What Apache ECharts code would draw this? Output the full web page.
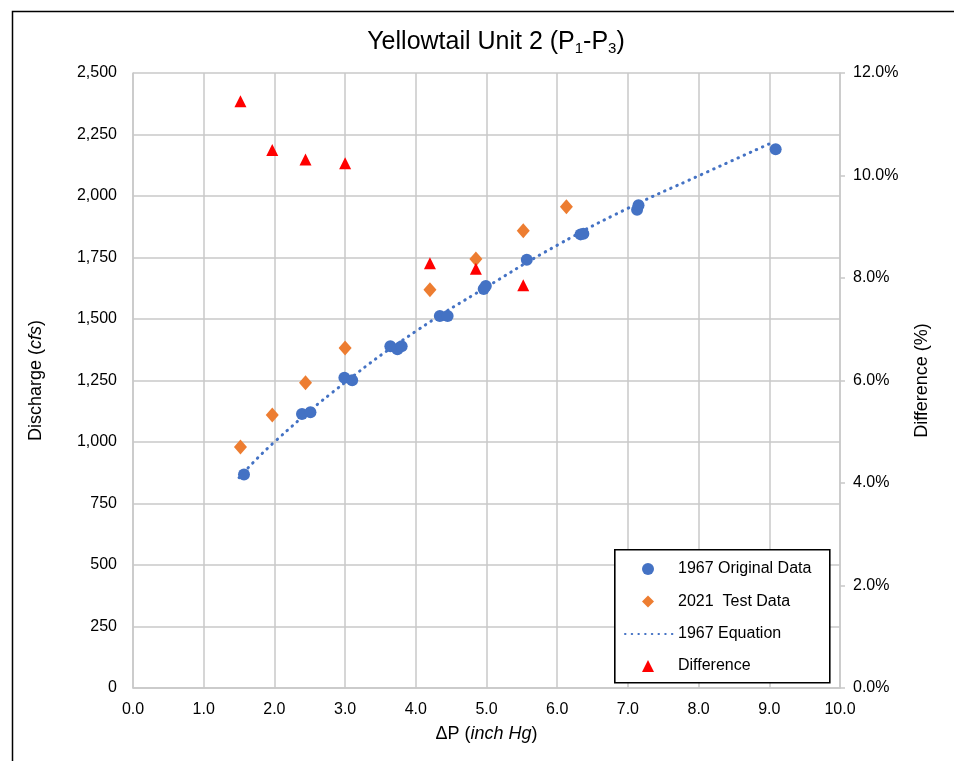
<!DOCTYPE html>
<html>
<head>
<meta charset="utf-8">
<script src="https://cdn.jsdelivr.net/npm/echarts@6/dist/echarts.min.js"></script>
<style>
html,body{margin:0;padding:0;background:#fff;}
#chart{width:954px;height:761px;}
</style>
</head>
<body>
<div id="chart"></div>
<script>
// 1967 Original Data (ΔP inch Hg, discharge cfs)
const origX = [1.57, 2.39, 2.51, 2.99, 3.10, 3.64, 3.74, 3.80, 4.34, 4.45, 4.96, 4.99, 5.57, 6.33, 6.37, 7.13, 7.15, 9.09];
const origY = [868, 1114, 1121, 1261, 1251, 1389, 1377, 1389, 1512, 1512, 1622, 1634, 1741, 1844, 1847, 1944, 1962, 2190];
// 2021 Test Data
const testX = [1.52, 1.97, 2.44, 3.00, 4.20, 4.85, 5.52, 6.13];
const testY = [980, 1110, 1241, 1382, 1619, 1744, 1859, 1956];
// 1967 Equation
const eqX = [1.5, 2.0, 3.0, 4.0, 5.0, 6.0, 7.0, 8.0, 9.0];
const eqY = [855, 1000, 1242, 1450, 1630, 1800, 1950, 2082, 2212];
// Difference (%)
const diffX = [1.52, 1.97, 2.44, 3.00, 4.20, 4.85, 5.52];
const diffY = [11.45, 10.50, 10.31, 10.24, 8.29, 8.18, 7.86];

const zip = (a, b) => a.map((v, i) => [v, b[i]]);
const FONT = 'Liberation Sans, Arial, sans-serif';
const GRID = '#C8C8C8';
const legendText = {fontSize: 16, color: '#000', fontFamily: FONT};
const legendTextShift = {fontSize: 16, color: '#000', fontFamily: FONT, padding: [0, 0, 0, 19]};

const chart = echarts.init(document.getElementById('chart'), null, {renderer: 'canvas'});
chart.setOption({
  animation: false,
  backgroundColor: '#fff',
  textStyle: {fontFamily: FONT},
  graphic: [{
    type: 'rect', left: 10, top: 9, silent: true,
    shape: {width: 960, height: 780},
    style: {fill: 'none', stroke: '#000', lineWidth: 1.5}
  }, {
    type: 'rect', left: 614, top: 549, silent: true, z: 3,
    shape: {width: 215, height: 133},
    style: {fill: '#fff', stroke: '#000', lineWidth: 1.6}
  }],
  title: {
    text: '{a|Yellowtail Unit 2 (P}{s|1}{a|-P}{s|3}{a|)}',
    left: 491, top: 24, textAlign: 'center',
    textStyle: {
      fontWeight: 'normal',
      rich: {
        a: {fontSize: 25, fontFamily: FONT, color: '#000', fontWeight: 'normal'},
        s: {fontSize: 15, fontFamily: FONT, color: '#000', fontWeight: 'normal', padding: [12, 0, 0, 0]}
      }
    }
  },
  grid: {left: 133, right: 114, top: 73, bottom: 73, containLabel: false},
  legend: [{
    orient: 'vertical', left: 642, top: 561, padding: 0, z: 6,
    itemGap: 16.5, itemWidth: 12, itemHeight: 12,
    textStyle: legendTextShift,
    data: [{name: '1967 Original Data', icon: 'circle'}, {name: '2021  Test Data', icon: 'diamond'}]
  }, {
    orient: 'vertical', left: 624, top: 626, padding: 0, z: 6,
    itemWidth: 48, itemHeight: 12,
    textStyle: legendText,
    data: [{name: '1967 Equation', itemStyle: {opacity: 0}}]
  }, {
    orient: 'vertical', left: 642, top: 658, padding: 0, z: 6,
    itemWidth: 12, itemHeight: 12,
    textStyle: legendTextShift,
    data: [{name: 'Difference', icon: 'triangle'}]
  }],
  xAxis: {
    type: 'value', min: 0, max: 10, interval: 1,
    name: '{a|ΔP (}{i|inch Hg}{a|)}', nameLocation: 'middle', nameGap: 37,
    nameTextStyle: {rich: {a: {fontSize: 18, color: '#000', fontFamily: FONT}, i: {fontSize: 18, color: '#000', fontStyle: 'italic', fontFamily: FONT}}},
    axisLine: {show: true, lineStyle: {color: GRID, width: 1.5}},
    axisTick: {show: false},
    axisLabel: {fontSize: 16, color: '#000', margin: 14, formatter: v => v.toFixed(1)},
    splitLine: {show: true, lineStyle: {color: GRID, width: 1.5}}
  },
  yAxis: [{
    type: 'value', min: 0, max: 2500, interval: 250, position: 'left',
    name: '{a|Discharge (}{i|cfs}{a|)}', nameLocation: 'middle', nameGap: 88, nameRotate: 90,
    nameTextStyle: {rich: {a: {fontSize: 18, color: '#000', fontFamily: FONT}, i: {fontSize: 18, color: '#000', fontStyle: 'italic', fontFamily: FONT}}},
    axisLine: {show: true, lineStyle: {color: GRID, width: 1.5}},
    axisTick: {show: false},
    axisLabel: {fontSize: 16, color: '#000', margin: 16, formatter: v => v.toLocaleString('en-US')},
    splitLine: {show: true, lineStyle: {color: GRID, width: 1.5}}
  }, {
    type: 'value', min: 0, max: 12, interval: 2, position: 'right',
    name: 'Difference (%)', nameLocation: 'middle', nameGap: 73, nameRotate: 90,
    nameTextStyle: {fontSize: 18, color: '#000', fontFamily: FONT},
    axisLine: {show: true, lineStyle: {color: GRID, width: 1.5}},
    axisTick: {show: true, inside: false, length: 5, lineStyle: {color: GRID, width: 1.5}},
    axisLabel: {fontSize: 16, color: '#000', margin: 13, formatter: v => v.toFixed(1) + '%'},
    splitLine: {show: false}
  }],
  series: [{
    name: '1967 Original Data', type: 'scatter', yAxisIndex: 0,
    symbol: 'circle', symbolSize: 12,
    itemStyle: {color: '#4472C4', opacity: 1},
    data: zip(origX, origY), z: 4
  }, {
    name: '2021  Test Data', type: 'scatter', yAxisIndex: 0,
    symbol: 'diamond', symbolSize: [13, 15],
    itemStyle: {color: '#ED7D31', opacity: 1},
    data: zip(testX, testY), z: 3
  }, {
    name: '1967 Equation', type: 'line', yAxisIndex: 0,
    smooth: true, showSymbol: false, symbol: 'none',
    lineStyle: {color: '#4472C4', width: 3, type: [0.5, 6.2], cap: 'round'},
    itemStyle: {color: '#4472C4'},
    data: zip(eqX, eqY), z: 2
  }, {
    name: 'Difference', type: 'scatter', yAxisIndex: 1,
    symbol: 'triangle', symbolSize: [12, 12],
    itemStyle: {color: '#FF0000', opacity: 1},
    data: zip(diffX, diffY), z: 5
  }]
});
</script>
</body>
</html>
